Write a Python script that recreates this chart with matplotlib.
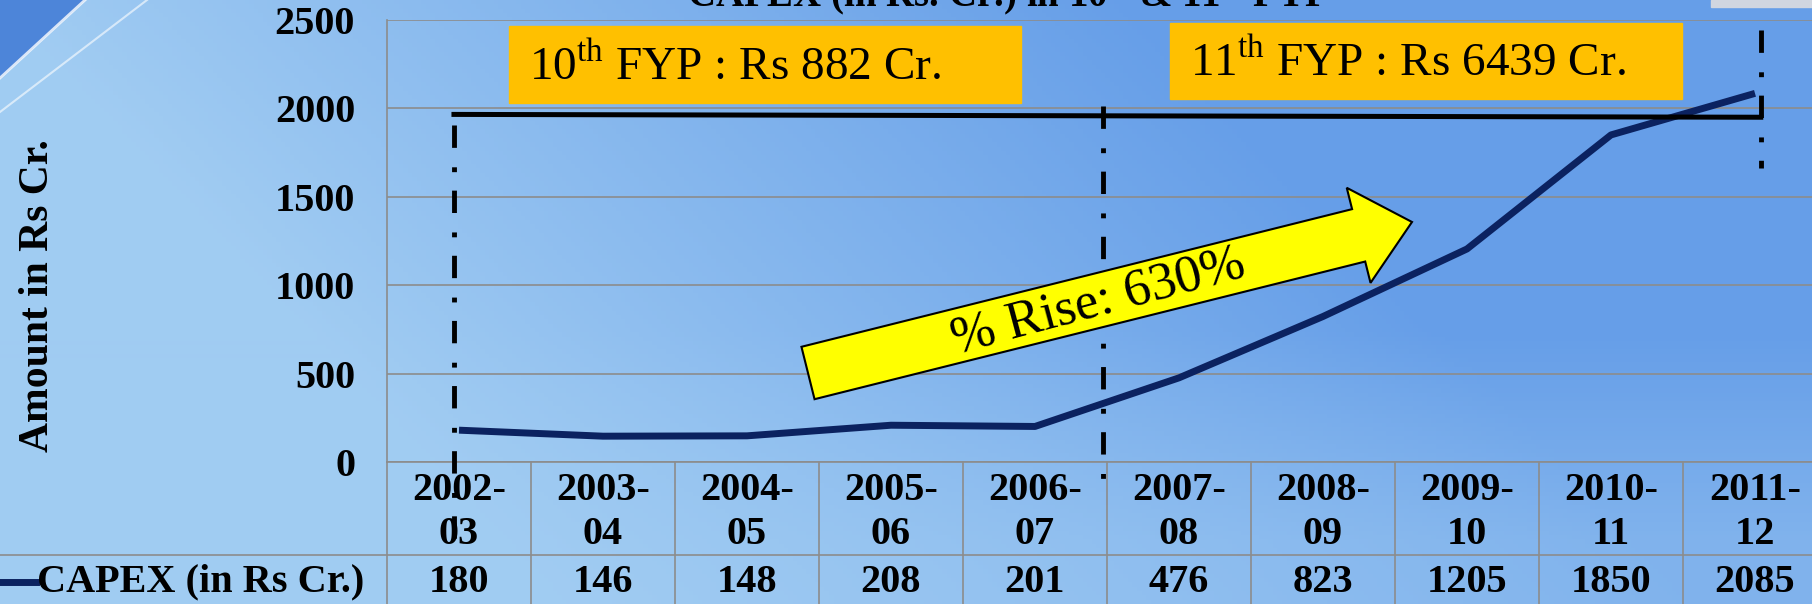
import numpy as np
import matplotlib
matplotlib.use('Agg')
import matplotlib.pyplot as plt
import matplotlib.transforms as mtransforms
from matplotlib.patches import Polygon, Rectangle
from matplotlib.lines import Line2D

years = ['2002-\n03', '2003-\n04', '2004-\n05', '2005-\n06', '2006-\n07',
         '2007-\n08', '2008-\n09', '2009-\n10', '2010-\n11', '2011-\n12']
capex = [180, 146, 148, 208, 201, 476, 823, 1205, 1850, 2085]
yticks = [0, 500, 1000, 1500, 2000, 2500]

plt.rcParams['font.family'] = ['Liberation Serif', 'DejaVu Serif']
plt.rcParams['mathtext.fontset'] = 'custom'
plt.rcParams['mathtext.rm'] = 'Liberation Serif'

W, H = 1812, 604
fig = plt.figure(figsize=(W / 100, H / 100), dpi=100)


def fx(x):
    return x / W


def fy(y):
    return 1 - y / H


# slide background
bg = fig.add_axes([0, 0, 1, 1])
bg.axis('off')
xx, yy = np.meshgrid(np.linspace(0, 1, 400), np.linspace(0, 1, 140))
left = np.array([0.63, 0.80, 0.95])
mid = np.array([0.40, 0.62, 0.91])
t = np.clip(xx * 1.6 - yy * 0.5, 0, 1)[..., None]
img = left * (1 - t) + mid * t
light = np.clip((yy - 0.55) * 1.3, 0, 0.45)[..., None]
img = img * (1 - light) + left * light
bg.imshow(img, extent=[0, 1, 0, 1], aspect='auto', origin='upper')
bg.set_xlim(0, 1)
bg.set_ylim(0, 1)
bg.add_patch(Polygon([[0, 1], [fx(85), 1], [0, fy(78)]], closed=True,
                     color=(0.30, 0.52, 0.85)))
bg.plot([0, fx(85)], [fy(78), 1], color='white', lw=2, alpha=0.8)
bg.plot([0, fx(147)], [fy(112), 1], color='white', lw=1.5, alpha=0.6)
bg.add_patch(Rectangle((fx(1711), fy(7)), fx(101), fy(0) - fy(7),
                       color=(0.82, 0.84, 0.88)))

ax = fig.add_axes([fx(387), fy(462), 1440 / W, 442 / H])
ax.patch.set_alpha(0)
x = np.arange(len(capex))
ax.set_xlim(-0.5, 9.5)
ax.set_ylim(0, 2500)
ax.plot(x, capex, color='#0b2260', lw=5, solid_joinstyle='round',
        solid_capstyle='butt', zorder=3)
ax.set_yticks(yticks)
ax.set_yticklabels([str(v) for v in yticks], fontsize=29, fontweight='bold')
ax.tick_params(axis='y', length=0, pad=23)
ax.set_xticks([])
ax.grid(axis='y', color='#8c8c8c', lw=1.2)
ax.set_axisbelow(True)
for s in ['top', 'right']:
    ax.spines[s].set_visible(False)
for s in ['left', 'bottom']:
    ax.spines[s].set_color('#8c8c8c')
    ax.spines[s].set_linewidth(1.2)
fig.text(fx(38), fy(296), 'Amount in Rs Cr.', rotation=90, fontsize=30,
         fontweight='bold', ha='center', va='center')

# data table under the chart
trans = mtransforms.blended_transform_factory(ax.transData, fig.transFigure)
for i, (lab, v) in enumerate(zip(years, capex)):
    ax.text(i, fy(512), lab, transform=trans, ha='center', va='center',
            fontsize=29, fontweight='bold', linespacing=1.25, clip_on=False)
    ax.text(i, fy(582), str(v), transform=trans, ha='center', va='center',
            fontsize=29, fontweight='bold', clip_on=False)
for b in np.arange(-0.5, 10, 1.0):
    ax.plot([b, b], [fy(462), 0], transform=trans, color='#8c8c8c', lw=1.2,
            clip_on=False)
fig.add_artist(Line2D([0, 1], [fy(555), fy(555)], color='#8c8c8c', lw=1.2))
fig.add_artist(Line2D([0, fx(36)], [fy(582), fy(582)], color='#0b2260', lw=5))
fig.text(fx(37), fy(582), 'CAPEX (in Rs Cr.)', fontsize=29, fontweight='bold',
         ha='left', va='center')

# plan period markers
dd = (0, (4.6, 4, 1, 3.8))
ax.plot([-0.035, -0.035], [1906, -481], color='black', lw=3.5, ls=dd, clip_on=False, zorder=4)
ax.plot([4.47, 4.47], [2015, -124], color='black', lw=3.5, ls=dd, clip_on=False, zorder=4)
ax.plot([9.04, 9.04], [2443, 1663], color='black', lw=3.5, ls=dd, clip_on=False, zorder=4)
ax.plot([-0.035, 9.04], [1966, 1950], color='black', lw=3.6, clip_on=False, zorder=4)

# plan boxes
for (x0, y0, x1, y1), txt, tx in [((509, 26, 1021, 103), r'10$^{\rm th}$ FYP : Rs 882 Cr.', 529),
                                   ((1170, 23, 1682, 99), r'11$^{\rm th}$ FYP : Rs 6439 Cr.', 1190)]:
    fig.patches.append(Rectangle((fx(x0), fy(y1)), fx(x1) - fx(x0), fy(y0) - fy(y1),
                                 transform=fig.transFigure, color='#ffc000', zorder=5))
    fig.text(fx(tx), fy((y0 + y1) / 2 + 2), txt, fontsize=34, ha='left', va='center', zorder=6)

# rise arrow
T = np.array([808.0, 373.0])
P = np.array([1412.0, 222.0])
u = (P - T) / np.linalg.norm(P - T)
n = np.array([u[1], -u[0]])
B = P - 55 * u
pts = [T + 27 * n, B + 27 * n, B + 49 * n, P, B - 49 * n, B - 27 * n, T - 27 * n]
pts = [(fx(p[0]), fy(p[1])) for p in pts]
fig.patches.append(Polygon(pts, closed=True, transform=fig.transFigure,
                           facecolor='#ffff00', edgecolor='black', lw=1.5, zorder=5))
fig.text(fx(1098), fy(302), '% Rise: 630%', fontsize=38, rotation=15,
         rotation_mode='anchor', ha='center', va='center', zorder=6)

fig.text(fx(1008), fy(6), r'CAPEX (in Rs. Cr.) in 10$^{\rm th}$ & 11$^{\rm th}$ FYP',
         fontsize=28, fontweight='bold', ha='center', va='baseline')

fig.savefig('out.png', dpi=100)
